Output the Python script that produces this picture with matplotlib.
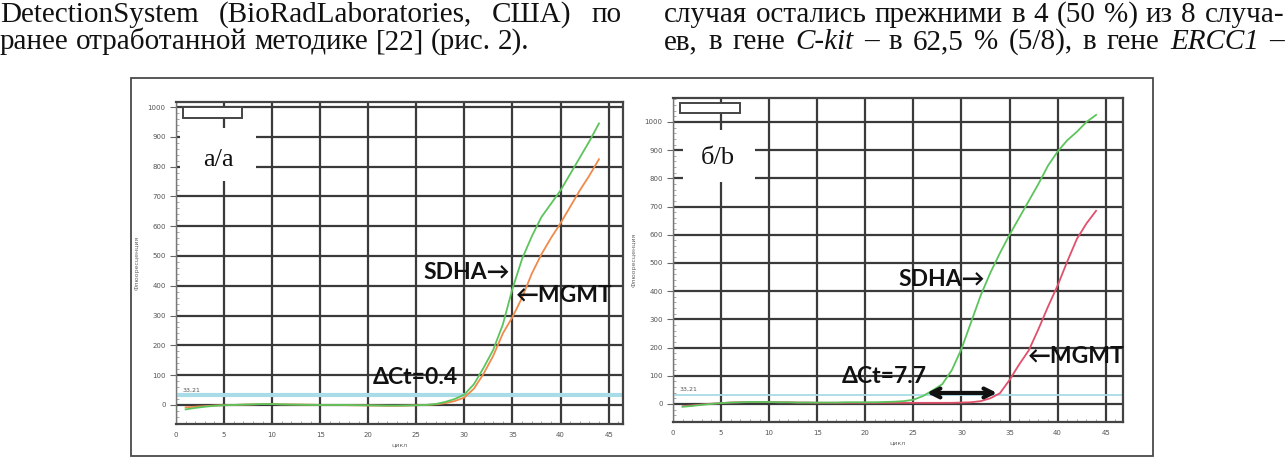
import matplotlib
matplotlib.use("Agg")
import matplotlib.pyplot as plt
from matplotlib.patches import Rectangle
from matplotlib.ticker import MultipleLocator
import numpy as np

W, H = 1286, 457

# --- data ---
cycles = np.arange(1, 45)

a_sdha = [-15, -10, -6, -3, -1, 0, 1, 2, 3, 3,
          2, 1, 1, 0, 0, 0, 0, 0, -1, -1,
          -2, -2, -2, -2, -1, 0, 3, 10, 20, 35,
          70, 125, 185, 270, 390, 490, 565, 630, 675, 720,
          775, 830, 885, 945]
a_mgmt = [-8, -6, -4, -2, -1, 0, 1, 2, 3, 3,
          2, 2, 1, 1, 0, 0, 0, -1, -1, -2,
          -2, -3, -3, -2, -1, 0, 2, 6, 13, 25,
          55, 105, 165, 240, 295, 360, 440, 505, 560, 610,
          665, 720, 770, 825]

b_sdha = [-10, -7, -3, 0, 3, 5, 6, 7, 7, 7,
          6, 6, 5, 5, 5, 5, 5, 6, 6, 6,
          6, 7, 8, 10, 15, 28, 48, 70, 120, 195,
          290, 385, 465, 535, 600, 660, 720, 780, 845, 895,
          935, 965, 1000, 1025]
b_mgmt = [-8, -5, -2, 1, 3, 5, 6, 7, 7, 7,
          6, 6, 5, 5, 4, 4, 4, 4, 4, 4,
          4, 4, 4, 4, 4, 4, 4, 4, 4, 5,
          6, 10, 20, 38, 85, 140, 190, 265, 345, 420,
          505, 585, 640, 685]

threshold = 33.21
threshold_label = "33,21"
x_ticks = np.arange(0, 50, 5)
y_ticks = np.arange(0, 1100, 100)

left_lines = ["DetectionSystem (BioRadLaboratories, США) по",
              "ранее отработанной методике [22] (рис. 2)."]
right_line1 = "случая остались прежними в 4 (50 %) из 8 случа-"
right_line2 = [("ев,", 0), ("в", 0), ("гене", 0), ("C-kit", 1), ("–", 0), ("в", 0),
               ("62,5", 0), ("%", 0), ("(5/8),", 0), ("в", 0), ("гене", 0),
               ("ERCC1", 1), ("–", 0)]

fig = plt.figure(figsize=(W / 100, H / 100), dpi=100)
fig.patch.set_facecolor("white")
rend = fig.canvas.get_renderer()

TXT = dict(family="Liberation Serif", fontsize=21, color="#111111")


def fy(py):
    return 1 - py / H


def put_words(words, x0, x1, py, justify=True):
    # place words one by one, spreading the gaps to fill x0..x1
    items = []
    for w, it in words:
        t = fig.text(0, fy(py), w, va="baseline", ha="left",
                     style="italic" if it else "normal", **TXT)
        items.append(t)
    widths = [t.get_window_extent(rend).width for t in items]
    if justify:
        gap = (x1 - x0 - sum(widths)) / (len(items) - 1)
    else:
        gap = 0.25 * TXT["fontsize"] * 100 / 72
    x = x0
    for t, w in zip(items, widths):
        t.set_x(x / W)
        x += w + gap


put_words([(w, 0) for w in left_lines[0].split()], 0, 622, 22)
put_words([(w, 0) for w in left_lines[1].split()], 0, 622, 49, justify=False)
put_words([(w, 0) for w in right_line1.split()], 664, 1284, 22)
put_words(right_line2, 664, 1284, 49)

# frame around both charts
fig.patches.append(Rectangle((131 / W, fy(456)), (1153 - 131) / W, (456 - 78) / H,
                             transform=fig.transFigure, fill=False,
                             edgecolor="#4a4a4a", lw=1.3))

ANN = dict(family=["Lato", "DejaVu Sans"], fontweight="bold", fontsize=16.5, color="#111111")


def panel(rect, xlim, ylim, sdha, mgmt, mgmt_color, thr_lw):
    l, r, t, b = rect
    ax = fig.add_axes([l / W, fy(b), (r - l) / W, (b - t) / H])
    ax.set_xlim(*xlim)
    ax.set_ylim(*ylim)
    ax.set_xticks(x_ticks)
    ax.set_yticks(y_ticks)
    ax.xaxis.set_minor_locator(MultipleLocator(1))
    ax.yaxis.set_minor_locator(MultipleLocator(20))
    ax.grid(True, which="major", color="#3a3a3a", lw=1.6)
    ax.set_axisbelow(True)
    for s in ["top", "right", "bottom"]:
        ax.spines[s].set_color("#444444")
        ax.spines[s].set_linewidth(1.6)
    ax.spines["left"].set_color("#777777")
    ax.spines["left"].set_linewidth(1.0)
    ax.tick_params(axis="both", which="major", labelsize=5, labelcolor="#555555",
                   color="#666666", length=4, width=0.8)
    ax.tick_params(axis="x", which="major", length=0, pad=6)
    ax.tick_params(axis="both", which="minor", direction="in", length=2,
                   color="#999999", width=0.6)
    ax.set_xlabel("цикл", fontsize=4.5, color="#666666", labelpad=3)
    ax.set_ylabel("Флюоресценция", fontsize=4.5, color="#666666", labelpad=6)

    ax.axhline(threshold, color="#a9dce6", lw=thr_lw, zorder=2)
    ax.text(0.7, threshold + 12, threshold_label, fontsize=4.5, color="#555555")
    ax.plot(cycles, mgmt, color=mgmt_color, lw=1.3, zorder=3)
    ax.plot(cycles, sdha, color="#5cc45c", lw=1.3, zorder=3)
    return ax


# panel a
ax1 = panel((176, 623, 102, 424), (0, 46.5), (-64, 1017), a_sdha, a_mgmt, "#f08a4b", 3)
ax1.add_patch(Rectangle((0.7, 963), 6.2, 37, facecolor="white", edgecolor="#444444",
                        lw=1.4, zorder=4))
ax1.add_patch(Rectangle((0.4, 752), 7.9, 178, facecolor="white", edgecolor="none", zorder=4))
ax1.text(4.4, 822, "а/а", ha="center", va="center", family="Liberation Serif",
         fontsize=19, color="#111111", zorder=5)
ax1.text(34.7, 446, "SDHA→", ha="right", va="center", **ANN)
ax1.text(35.4, 369, "←MGMT", ha="left", va="center", **ANN)
ax1.text(20.5, 91, "ΔCt=0.4", ha="left", va="center", **ANN)

# panel b
ax2 = panel((673, 1123, 98, 422), (0, 46.8), (-64, 1085), b_sdha, b_mgmt, "#e0506a", 1.3)
ax2.add_patch(Rectangle((0.73, 1032), 6.2, 35, facecolor="white", edgecolor="#444444",
                        lw=1.4, zorder=4))
ax2.add_patch(Rectangle((1.0, 787), 7.5, 185, facecolor="white", edgecolor="none", zorder=4))
ax2.text(4.7, 872, "б/b", ha="center", va="center", family="Liberation Serif",
         fontsize=19, color="#111111", zorder=5)
ax2.text(32.4, 440, "SDHA→", ha="right", va="center", **ANN)
ax2.text(36.9, 167, "←MGMT", ha="left", va="center", **ANN)
ax2.text(17.6, 96, "ΔCt=7.7", ha="left", va="center", **ANN)
ax2.annotate("", xy=(26.4, 39), xytext=(33.7, 39),
             arrowprops=dict(arrowstyle="<->", lw=3, color="#111111", mutation_scale=16,
                             shrinkA=0, shrinkB=0), zorder=5)

fig.savefig("out.png", dpi=100)
